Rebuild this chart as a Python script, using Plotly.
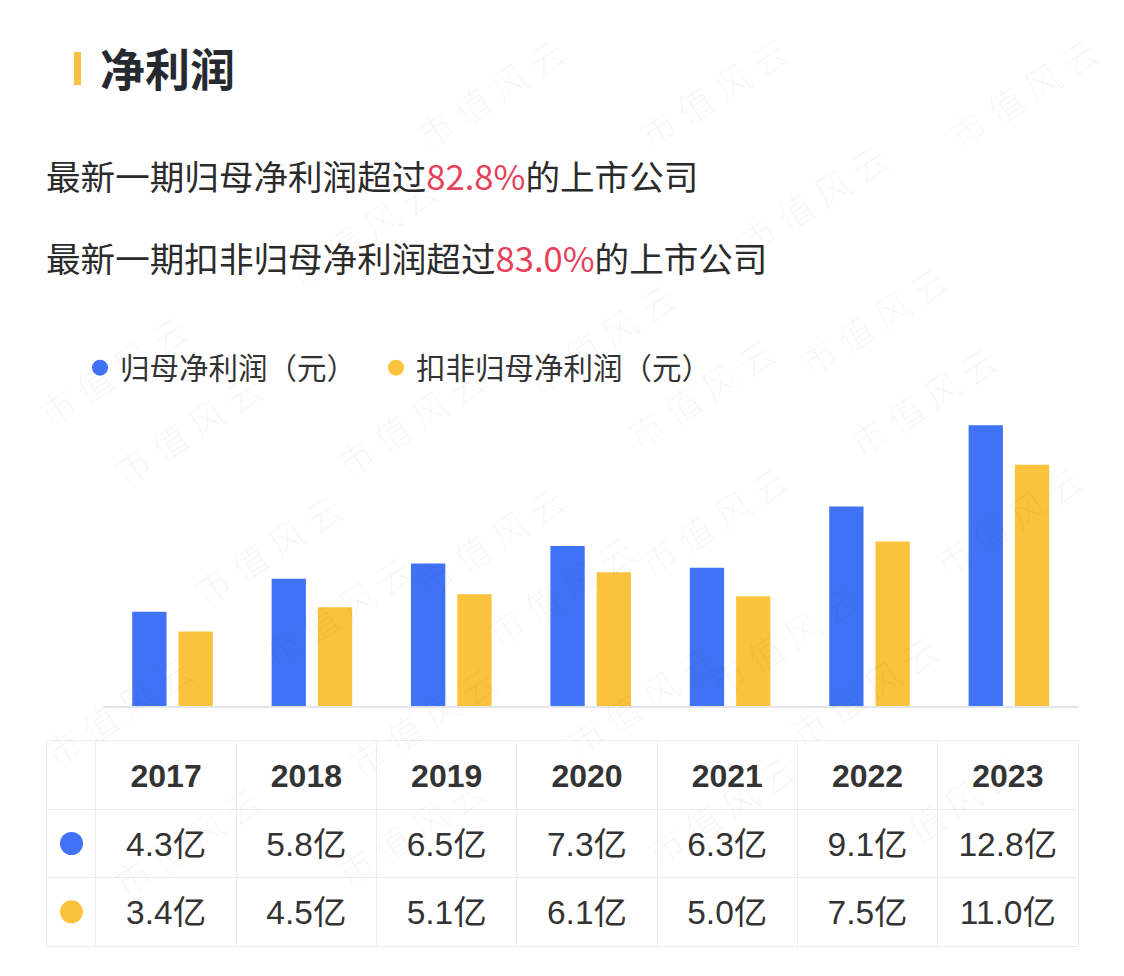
import plotly.graph_objects as go

# ---------------- data ----------------
years = ["2017", "2018", "2019", "2020", "2021", "2022", "2023"]
parent_np = [4.3, 5.8, 6.5, 7.3, 6.3, 9.1, 12.8]      # 归母净利润（亿元）
deducted_np = [3.4, 4.5, 5.1, 6.1, 5.0, 7.5, 11.0]    # 扣非归母净利润（亿元）
series_names = ["归母净利润（元）", "扣非归母净利润（元）"]
title_text = "净利润"
rank_prefix = ["最新一期归母净利润超过", "最新一期扣非归母净利润超过"]
rank_values = [82.8, 83.0]
rank_suffix = "的上市公司"
unit = "亿"
watermark = "市 值 风 云"

# ---------------- helpers ----------------
W, H = 1124, 976


def px(x):
    return x / W


def py(y):
    return 1 - y / H


BLUE = "#4072F5"
YELLOW = "#FBC23B"
TEXT = "#2B2B2B"
RED = "#E6405A"
GRID = "#EDEDED"
CJK = "Noto Sans CJK SC"
NUM = "Liberation Sans, Noto Sans CJK SC"

fig = go.Figure()

# ---------------- bars ----------------
fig.add_trace(go.Bar(x=years, y=parent_np, name=series_names[0], marker=dict(color=BLUE, line=dict(width=0)),
                     width=0.246, offset=-0.289, showlegend=False, hoverinfo="x+y"))
fig.add_trace(go.Bar(x=years, y=deducted_np, name=series_names[1], marker=dict(color=YELLOW, line=dict(width=0)),
                     width=0.246, offset=0.043, showlegend=False, hoverinfo="x+y"))

# legend entries (circle markers), one legend box per entry
for name, c, lg in zip(series_names, [BLUE, YELLOW], ["legend", "legend2"]):
    fig.add_trace(go.Scatter(x=[None], y=[None], mode="markers", name=name, legend=lg,
                             marker=dict(size=20, color=c), showlegend=True))

# ---------------- table (drawn on its own axes) ----------------
col_x = [i + 0.5 for i in range(len(years))]
text_shift = 0.06  # optical centring of text inside rows
fig.add_trace(go.Scatter(x=col_x, y=[2.5 - text_shift] * len(years), text=years, mode="text",
                         textfont=dict(size=32, color="#333333", family=NUM, weight="bold"),
                         xaxis="x2", yaxis="y2", showlegend=False, hoverinfo="skip"))
fig.add_trace(go.Scatter(x=col_x, y=[1.5 - text_shift] * len(years),
                         text=[f"{v:.1f}{unit}" for v in parent_np], mode="text",
                         textfont=dict(size=33.5, color="#333333", family=NUM),
                         xaxis="x2", yaxis="y2", showlegend=False, hoverinfo="skip"))
fig.add_trace(go.Scatter(x=col_x, y=[0.5 - text_shift] * len(years),
                         text=[f"{v:.1f}{unit}" for v in deducted_np], mode="text",
                         textfont=dict(size=33.5, color="#333333", family=NUM),
                         xaxis="x2", yaxis="y2", showlegend=False, hoverinfo="skip"))
fig.add_trace(go.Scatter(x=[-0.1745, -0.1745], y=[1.5, 0.5], mode="markers",
                         marker=dict(size=23, color=[BLUE, YELLOW], line=dict(width=0)),
                         xaxis="x2", yaxis="y2", showlegend=False, hoverinfo="skip"))

# ---------------- annotations ----------------
ann = []
# watermarks
wm_pos = [(800, 22), (1110, 22), (490, 22), (900, 128), (275, 160), (600, 268), (960, 250), (25, 300),
          (410, 420), (700, 392), (1010, 400), (100, 428), (180, 548), (490, 540), (800, 520), (1095, 520),
          (250, 680), (560, 660), (870, 640), (30, 780), (335, 790), (640, 770), (950, 760),
          (100, 910), (410, 900), (720, 880), (1030, 880)]
for (wx, wy) in wm_pos:
    ann.append(dict(x=px(wx), y=py(wy), xref="paper", yref="paper", text=watermark, showarrow=False,
                    textangle=-33, font=dict(size=36, family=CJK, color="rgba(0,0,0,0.04)", weight=300)))

ann.append(dict(x=px(98), y=py(67), xref="paper", yref="paper", xanchor="left", yanchor="middle",
                text=title_text, showarrow=False,
                font=dict(size=45, family=CJK, color="#262A30", weight="bold")))
for i, yy in enumerate([175, 257]):
    ann.append(dict(x=px(44), y=py(yy), xref="paper", yref="paper", xanchor="left", yanchor="middle",
                    text=f"{rank_prefix[i]}<span style='color:{RED}'>{rank_values[i]:.1f}%</span>{rank_suffix}",
                    showarrow=False, font=dict(size=34.6, family=CJK, color=TEXT)))

legend_common = dict(orientation="h", yanchor="middle", xanchor="left", y=py(368),
                     font=dict(size=29.5, family=CJK, color="#333333"), bgcolor="rgba(0,0,0,0)",
                     itemclick=False, itemdoubleclick=False)

fig.update_layout(
    width=W, height=H,
    margin=dict(l=0, r=0, t=0, b=0),
    paper_bgcolor="white", plot_bgcolor="white",
    font=dict(family=CJK, color=TEXT),
    barmode="overlay",
    showlegend=True,
    legend=dict(x=px(80), **legend_common),
    legend2=dict(x=px(376), **legend_common),
    xaxis=dict(domain=[px(102.8), px(1078.6)], range=[-0.5, 6.5], type="category",
               showticklabels=False, showgrid=False, zeroline=False, ticks="",
               showline=True, linecolor="#E3E6EC", linewidth=2, fixedrange=True),
    yaxis=dict(domain=[1 - 706 / H, 1 - 399 / H], range=[0, 14], visible=False, fixedrange=True),
    xaxis2=dict(domain=[px(47), px(1078)], range=[-0.349, 7], anchor="y2",
                tickvals=list(range(len(years))), showticklabels=False, ticks="",
                showgrid=True, gridcolor=GRID, gridwidth=1, zeroline=False,
                showline=True, mirror=True, linecolor=GRID, linewidth=1, fixedrange=True),
    yaxis2=dict(domain=[1 - 946 / H, 1 - 741 / H], range=[0, 3], anchor="x2",
                tickvals=[1, 2], showticklabels=False, ticks="",
                showgrid=True, gridcolor=GRID, gridwidth=1, zeroline=False,
                showline=True, mirror=True, linecolor=GRID, linewidth=1, fixedrange=True),
    annotations=ann,
    shapes=[dict(type="rect", xref="paper", yref="paper", x0=px(74), x1=px(81), y0=py(85), y1=py(52),
                 fillcolor="#F6C042", line=dict(width=0), layer="above")],
)

fig.write_html("out.html")
